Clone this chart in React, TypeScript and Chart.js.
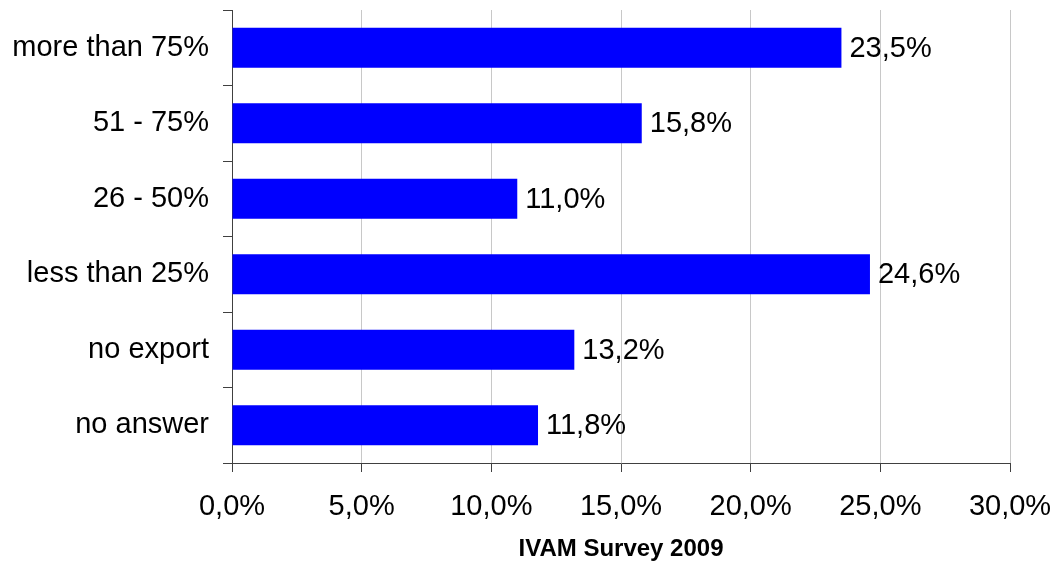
import React, { useEffect, useRef } from "react";
import { Chart, registerables } from "chart.js";

Chart.register(...registerables);

const categories = ["more than 75%", "51 - 75%", "26 - 50%", "less than 25%", "no export", "no answer"];
const values = [23.5, 15.8, 11.0, 24.6, 13.2, 11.8];
const xTicks = [0, 5, 10, 15, 20, 25, 30];
const titleText = "IVAM Survey 2009";

const FONT = "'Liberation Sans', Arial, Helvetica, sans-serif";
const fmt = (v: number) => v.toFixed(1).replace(".", ",") + "%";

const valueLabels = {
  id: "valueLabels",
  afterDatasetsDraw(chart: any) {
    const ctx = chart.ctx;
    const meta = chart.getDatasetMeta(0);
    ctx.save();
    ctx.font = `29px ${FONT}`;
    ctx.fillStyle = "#000";
    ctx.textAlign = "left";
    ctx.textBaseline = "middle";
    meta.data.forEach((bar: any, i: number) => {
      ctx.fillText(fmt(values[i]), bar.x + 8, bar.y + 1);
    });
    ctx.restore();
  },
};

export default function App() {
  const ref = useRef<HTMLCanvasElement | null>(null);
  useEffect(() => {
    document.body.style.margin = "0";
    const chart = new Chart(ref.current as HTMLCanvasElement, {
      type: "bar",
      data: {
        labels: categories,
        datasets: [
          {
            data: values,
            backgroundColor: "#0000ff",
            borderWidth: 0,
            barPercentage: 0.53,
            categoryPercentage: 1,
          },
        ],
      },
      options: {
        indexAxis: "y",
        animation: false,
        responsive: false,
        layout: { padding: { left: 0, right: 45, top: 10, bottom: 0 } },
        plugins: {
          legend: { display: false },
          tooltip: { enabled: false },
        },
        scales: {
          x: {
            min: 0,
            max: 30,
            afterBuildTicks: (scale: any) => {
              scale.ticks = xTicks.map((v) => ({ value: v }));
            },
            ticks: {
              callback: (v: any) => fmt(Number(v)),
              font: { family: FONT, size: 29 },
              color: "#000",
              padding: 18,
              maxRotation: 0,
            },
            grid: {
              color: "#c8c8c8",
              tickColor: "#404040",
              tickLength: 9,
              lineWidth: 1,
            },
            border: { color: "#404040", width: 1 },
            title: {
              display: true,
              text: titleText,
              font: { family: FONT, size: 24, weight: "bold" },
              color: "#000",
              padding: { top: 6, bottom: 4 },
            },
            afterFit: (scale: any) => {
              scale.height = 105;
              scale.paddingLeft = 0;
              scale.paddingRight = 0;
            },
          },
          y: {
            offset: true,
            ticks: {
              font: { family: FONT, size: 29 },
              color: "#000",
              padding: 14,
            },
            grid: {
              offset: true,
              drawOnChartArea: false,
              drawTicks: true,
              tickLength: 9,
              tickColor: "#404040",
            },
            border: { color: "#404040", width: 1 },
            afterFit: (scale: any) => {
              scale.width = 232;
              scale.paddingTop = 0;
              scale.paddingBottom = 0;
            },
          },
        },
      } as any,
      plugins: [valueLabels],
    });
    return () => chart.destroy();
  }, []);
  return (
    <div style={{ width: 1055, height: 568 }}>
      <canvas ref={ref} width={1055} height={568} />
    </div>
  );
}
